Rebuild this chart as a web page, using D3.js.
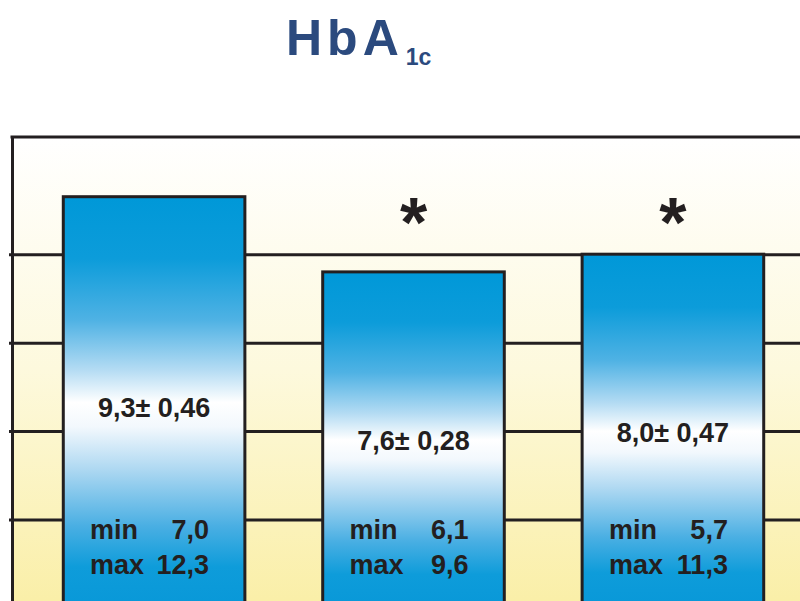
<!DOCTYPE html>
<html>
<head>
<meta charset="utf-8">
<script src="https://cdn.jsdelivr.net/npm/d3@7"></script>
<style>
  body { margin: 0; background: #fff; }
  text { font-family: "Liberation Sans", Arial, sans-serif; font-weight: bold; }
</style>
</head>
<body>
<div id="chart"></div>
<script>
// data
var groups = ["Gruppe 1", "Gruppe 2", "Gruppe 3"];
var means = [9.3, 7.6, 8.0];
var sems = [0.46, 0.28, 0.47];
var mins = [7.0, 6.1, 5.7];
var maxs = [12.3, 9.6, 11.3];
var significant = [false, true, true];
var yTicks = [2, 4, 6, 8];

function comma(v, n) { return v.toFixed(n).replace(".", ","); }

function init() {
    var W = 800, H = 601;
    var left = 12, top = 137;

    var svg = d3.select("#chart").append("svg")
        .attr("width", W).attr("height", H);

    var defs = svg.append("defs");

    // background: white to pale yellow
    var bg = defs.append("linearGradient").attr("id", "bg")
        .attr("gradientUnits", "userSpaceOnUse")
        .attr("x1", 0).attr("y1", top).attr("x2", 0).attr("y2", H);
    bg.append("stop").attr("offset", 0).attr("stop-color", "#ffffff");
    bg.append("stop").attr("offset", 0.5).attr("stop-color", "#fdf9dd");
    bg.append("stop").attr("offset", 1).attr("stop-color", "#faefa8");

    // bars: blue - white - blue
    var bar = defs.append("linearGradient").attr("id", "barFill")
        .attr("x1", 0).attr("y1", 0).attr("x2", 0).attr("y2", 1);
    [[0, "#0098d8"], [0.15, "#0c9cda"], [0.30, "#4fb2e4"], [0.42, "#b3dbf3"],
     [0.50, "#ffffff"], [0.56, "#f2f8fd"], [0.66, "#b0d9f2"], [0.80, "#4aafe3"],
     [0.90, "#0e9cda"], [1, "#0898d8"]].forEach(function(s) {
        bar.append("stop").attr("offset", s[0]).attr("stop-color", s[1]);
    });

    var y = d3.scaleLinear().domain([0, 10.65]).range([608, top]);
    var x = d3.scaleBand().domain(groups).range([left + 2, 813])
        .paddingInner(0.3).paddingOuter(0.19);

    svg.append("rect")
        .attr("x", left).attr("y", top)
        .attr("width", W - left).attr("height", H - top)
        .attr("fill", "url(#bg)");

    // grid lines + left frame
    var axis = svg.append("g")
        .attr("transform", "translate(" + left + ",0)")
        .call(d3.axisLeft(y).tickValues(yTicks).tickSize(-(W - left)).tickSizeOuter(0).tickFormat(""));
    axis.selectAll(".tick line").attr("x1", -3)
        .attr("stroke", "#231f20").attr("stroke-width", 3);
    axis.select(".domain").attr("stroke", "#231f20").attr("stroke-width", 3);

    // top frame line
    svg.append("line")
        .attr("x1", left - 1.5).attr("x2", W)
        .attr("y1", top).attr("y2", top)
        .attr("stroke", "#231f20").attr("stroke-width", 3);

    var idx = d3.range(groups.length);

    svg.selectAll("rect.bar").data(idx).enter().append("rect")
        .attr("class", "bar")
        .attr("x", function(i) { return x(groups[i]); })
        .attr("y", function(i) { return y(means[i]); })
        .attr("width", x.bandwidth())
        .attr("height", function(i) { return y(0) - y(means[i]); })
        .attr("fill", "url(#barFill)")
        .attr("stroke", "#231f20").attr("stroke-width", 3);

    var cx = function(i) { return x(groups[i]) + x.bandwidth() / 2; };
    var labelY = [417, 450, 442];

    svg.selectAll("text.mean").data(idx).enter().append("text")
        .attr("class", "mean")
        .attr("x", cx)
        .attr("y", function(i) { return labelY[i]; })
        .attr("text-anchor", "middle")
        .attr("font-size", 27)
        .attr("fill", "#231f20")
        .text(function(i) { return comma(means[i], 1) + "\u00b1 " + comma(sems[i], 2); });

    [["min", mins, 539], ["max", maxs, 574]].forEach(function(row) {
        svg.selectAll("text.lab-" + row[0]).data(idx).enter().append("text")
            .attr("x", function(i) { return cx(i) - 64; })
            .attr("y", row[2])
            .attr("font-size", 27).attr("fill", "#231f20")
            .text(row[0]);
        svg.selectAll("text.val-" + row[0]).data(idx).enter().append("text")
            .attr("x", function(i) { return cx(i) + 55; })
            .attr("y", row[2])
            .attr("text-anchor", "end")
            .attr("font-size", 27).attr("fill", "#231f20")
            .text(function(i) { return comma(row[1][i], 1); });
    });

    // significance stars
    svg.selectAll("text.star").data(idx.filter(function(i) { return significant[i]; }))
        .enter().append("text")
        .attr("x", cx)
        .attr("y", 247)
        .attr("text-anchor", "middle")
        .attr("font-size", 70)
        .attr("fill", "#231f20")
        .text("*");

    // title
    var title = svg.append("text")
        .attr("x", 286).attr("y", 55)
        .attr("font-size", 50)
        .attr("fill", "#2b4a7e");
    title.append("tspan").attr("letter-spacing", 5).text("HbA");
    title.append("tspan").attr("font-size", 23).attr("dy", 10).attr("dx", 2).text("1c");
}

window.onload = init;
</script>
</body>
</html>
